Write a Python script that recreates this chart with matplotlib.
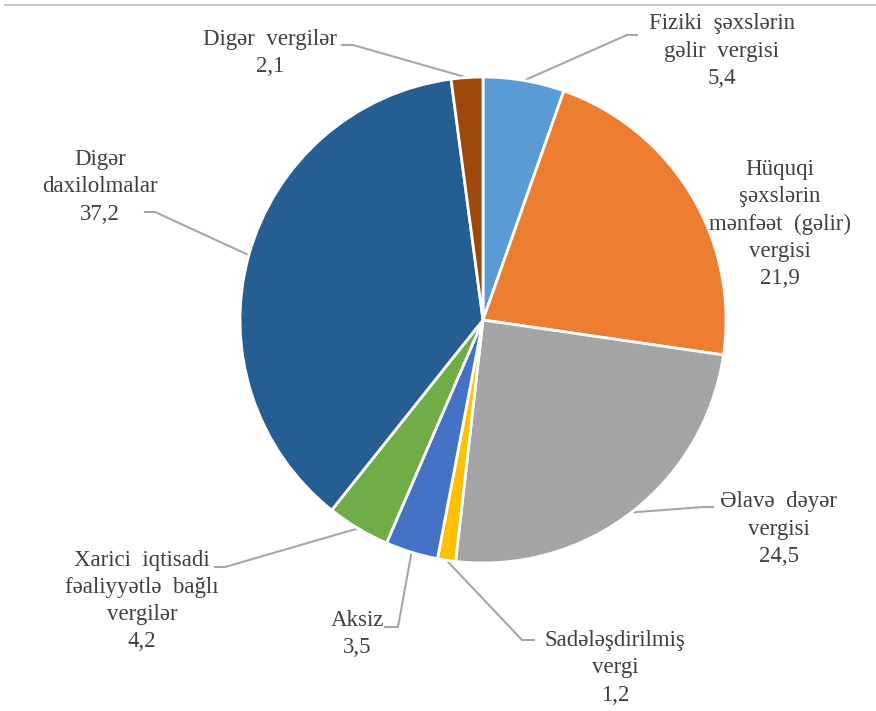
import numpy as np
import matplotlib.pyplot as plt

plt.rcParams['font.family'] = ['Liberation Serif', 'DejaVu Serif']

# Data (share, %)
labels = ["Fiziki  şəxslərin\ngəlir  vergisi",
          "Hüquqi\nşəxslərin\nmənfəət  (gəlir)\nvergisi",
          "Əlavə  dəyər\nvergisi",
          "Sadələşdirilmiş\nvergi",
          "Aksiz",
          "Xarici  iqtisadi\nfəaliyyətlə  bağlı\nvergilər",
          "Digər\ndaxilolmalar",
          "Digər  vergilər"]
values = [5.4, 21.9, 24.5, 1.2, 3.5, 4.2, 37.2, 2.1]
colors = ["#5B9BD5", "#ED7D31", "#A5A5A5", "#FFC000",
          "#4472C4", "#70AD47", "#255E91", "#9E480E"]

# Layout (pixel coords, y measured from top)
W, H = 876, 711
cx, cy, R = 483, 320, 243
label_pos = [(722, 51), (780, 224), (779, 529), (615, 668),
             (357, 634), (142, 601), (100, 187), (270, 53)]
# leader lines: (elbow, end) or None
leaders = [((627, 35), (637, 35)), None, ((703, 507), (713, 507)),
           ((522, 640), (534, 640)), ((398, 627), (385, 627)),
           ((225, 567), (215, 567)), ((155, 212), (145, 212)),
           ((353, 45), (342, 45))]

def fy(y):
    return H - y

fig = plt.figure(figsize=(W / 100, H / 100), dpi=100)
ax = fig.add_axes([0, 0, 1, 1])

wedges, _ = ax.pie(values, colors=colors, startangle=90, counterclock=False,
                   center=(cx, fy(cy)), radius=R,
                   wedgeprops=dict(edgecolor="white", linewidth=2))

txt_col = "#404040"
line_col = "#A6A6A6"
for w, lab, v, (lx, ly), ld in zip(wedges, labels, values, label_pos, leaders):
    ax.text(lx, fy(ly), f"{lab}\n{v:.1f}".replace(".", ","), ha="center",
            va="center", fontsize=16.5, color=txt_col, linespacing=1.38)
    if ld is not None:
        ang = np.deg2rad((w.theta1 + w.theta2) / 2)
        x0 = cx + R * np.cos(ang)
        y0 = fy(cy) + R * np.sin(ang)
        xs = [x0, ld[0][0], ld[1][0]]
        ys = [y0, fy(ld[0][1]), fy(ld[1][1])]
        ax.plot(xs, ys, color=line_col, lw=1.5, zorder=0)

# top border
ax.plot([5, W], [fy(5), fy(5)], color="#C8C8C8", lw=1.5)

ax.set_xlim(0, W)
ax.set_ylim(0, H)
ax.set_aspect("equal")
ax.axis("off")

fig.savefig("out.png", dpi=100)
